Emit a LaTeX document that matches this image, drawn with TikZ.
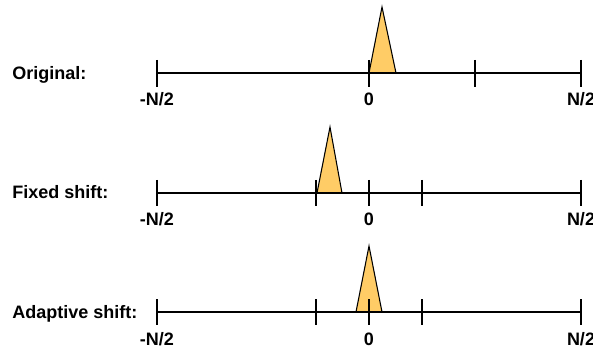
\documentclass[tikz,border=0pt]{standalone}
\usepackage{fontspec}
\setmainfont{Liberation Sans}
\usepackage{tikz}
\usetikzlibrary{positioning}
\definecolor{peakfill}{RGB}{255, 204, 102}

\begin{document}
\begin{tikzpicture}[x=0.75pt, y=-0.75pt,
    axis/.style={line width=1.5pt},
    tickmark/.style={line width=0.8pt},
    peak/.style={draw=black, fill=peakfill, line width=0.8pt},
    lbl/.style={font=\bfseries\fontsize{13.5}{16}\selectfont, inner sep=0pt, anchor=base}]
    \useasboundingbox (0,0) rectangle (593,349);

    % Original
    \node[lbl, anchor=base west] (titleorig) at (12,80) {Original:};
    \draw[peak] (369,73) -- (382,7) -- (396,73) -- cycle;
    \draw[axis] (157,73) -- (581,73);
    \foreach \x in {157,369,475,581}
        \draw[tickmark] (\x,60) -- (\x,87);
    \node[lbl] (lowA) at (157,106) {-N/2};
    \node[lbl] (zeroA) at (369,106) {0};
    \node[lbl] (highA) at (581,106) {N/2};

    % Fixed shift
    \node[lbl, anchor=base west] (titlefixed) at (12,199) {Fixed shift:};
    \draw[peak] (317,193) -- (330,127) -- (342,193) -- cycle;
    \draw[axis] (157,193) -- (581,193);
    \foreach \x in {157,316,369,422,581}
        \draw[tickmark] (\x,180) -- (\x,206);
    \node[lbl] (lowB) at (157,226) {-N/2};
    \node[lbl] (zeroB) at (369,226) {0};
    \node[lbl] (highB) at (581,226) {N/2};

    % Adaptive shift
    \node[lbl, anchor=base west] (titleadapt) at (12,318) {Adaptive shift:};
    \draw[peak] (356,312) -- (369,246) -- (382,312) -- cycle;
    \draw[axis] (157,312) -- (581,312);
    \foreach \x in {157,316,369,422,581}
        \draw[tickmark] (\x,299) -- (\x,325);
    \node[lbl] (lowC) at (157,345) {-N/2};
    \node[lbl] (zeroC) at (369,345) {0};
    \node[lbl] (highC) at (581,345) {N/2};
\end{tikzpicture}
\end{document}
